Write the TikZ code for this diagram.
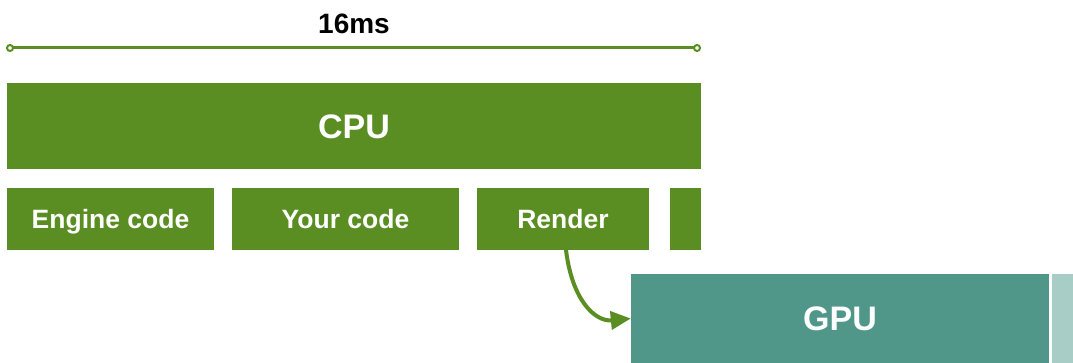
\documentclass[tikz,border=0pt]{standalone}
\usepackage{fontspec}
\setmainfont{Liberation Sans}
\usetikzlibrary{arrows.meta}
\definecolor{cgreen}{HTML}{5A8E22}
\definecolor{cteal}{HTML}{50978A}
\definecolor{clight}{HTML}{A8CCC6}
\begin{document}
\begin{tikzpicture}[x=1pt,y=-1pt,
  bar/.style={fill=cgreen,draw=none,inner sep=0pt,text=white,text height=19pt,text depth=0pt,font=\bfseries\fontsize{26.5}{30}\selectfont},
  big/.style={text height=24.4pt,font=\bfseries\fontsize{34}{40}\selectfont},
  dot/.style={fill=white,draw=cgreen,line width=2pt}]
\useasboundingbox (0,0) rectangle (1073,363);
\coordinate (r1) at (10,48);
\coordinate (r2) at (697,48);
\draw[cgreen,line width=3pt] (r1) -- (r2);
\filldraw[dot] (r1) circle (3);
\filldraw[dot] (r2) circle (3);
\node[font=\bfseries\fontsize{28}{32}\selectfont,text height=20pt,text depth=0pt,inner sep=0pt] (t) at (354,24) {16ms};
\node[bar,big,minimum width=694pt,minimum height=86pt] (cpu) at (354,126) {CPU};
\node[bar,minimum width=207pt,minimum height=62pt] (eng) at (110.5,219) {Engine code};
\node[bar,minimum width=227pt,minimum height=62pt] (your) at (345.5,219) {Your code};
\node[bar,minimum width=172pt,minimum height=62pt] (rend) at (563,219) {Render};
\node[bar,minimum width=31pt,minimum height=62pt] (more) at (685.5,219) {};
\node[bar,big,fill=cteal,minimum width=418pt,minimum height=89pt] (gpu) at (840,318.5) {GPU};
\node[fill=clight,inner sep=0pt,minimum width=21pt,minimum height=89pt] (next) at (1062.5,318.5) {};
\draw[cgreen,line width=4pt,-{Triangle[length=20pt,width=18pt]}] (566,250) .. controls (572,300) and (595,322) .. (gpu.west);
\end{tikzpicture}
\end{document}
